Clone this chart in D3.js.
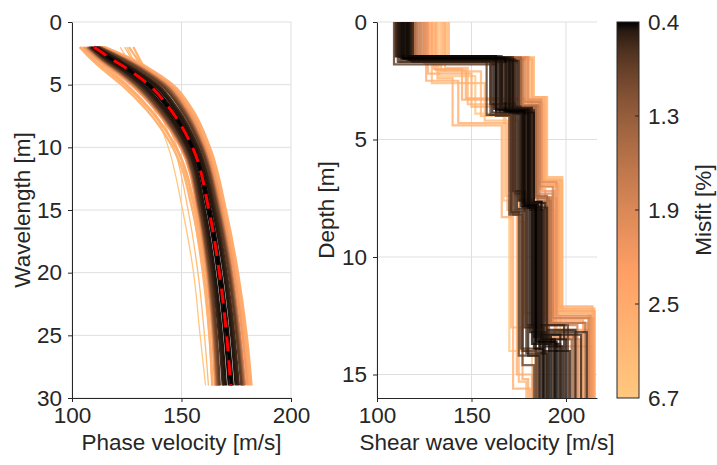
<!DOCTYPE html>
<html>
<head>
<meta charset="utf-8">
<script src="https://cdn.jsdelivr.net/npm/d3@7"></script>
<style>
  body { margin: 0; background: #fff; }
  svg text { font-family: "Liberation Sans", Arial, sans-serif; fill: #262626; }
</style>
</head>
<body>
<div id="chart"></div>
<script>
// dispersion curves: phase velocity [m/s] sampled at these wavelengths [m]
const wavelengths = [2, 3, 4, 5, 7, 10, 15, 20, 25, 29];
const bestCurve = [110, 118.5, 127.5, 135, 145, 155, 162.5, 167.3, 170.6, 172.5];

const curveMisfit = [
  6.7, 5.2, 4.5, 4.0, 3.8, 3.5, 3.2, 3.0, 2.8, 2.7, 2.6, 2.4,
  2.2, 2.2, 1.9, 1.9, 1.6, 1.6, 1.3, 1.3, 1.0, 1.0, 0.8, 0.8,
  0.6, 0.58, 0.52, 0.5, 0.47, 0.46, 0.43, 0.42, 0.41, 0.4
];
const curveVelocity = [
  [122, 125.5, 129, 132, 137.5, 144, 150.5, 155.5, 158.5, 161],
  [125, 128, 131, 134, 139.5, 146.5, 153, 157.5, 160.5, 162.3],
  [124, 127.5, 131, 134.5, 140.5, 148, 155, 159.5, 162.5, 164],
  [128, 131, 134, 137, 143.5, 151.5, 159.5, 164.5, 167.5, 169],
  [103.5, 109, 115.5, 122.5, 134, 146, 155, 160, 162.8, 164],
  [126, 130, 134.5, 139, 147, 156, 164, 170, 175, 178],
  [105, 111.5, 118.5, 125, 136, 147.5, 156, 160.5, 163, 164.2],
  [115, 128, 138, 146, 155, 163, 170.3, 175.8, 179.8, 182],
  [114.5, 127.5, 137.5, 145.5, 154.5, 162.5, 169.9, 175.4, 179.4, 181.7],
  [104, 110, 117, 124, 135.5, 147.5, 156.5, 161.5, 164.3, 165.5],
  [114, 127, 137, 145, 154, 162, 169.5, 175, 179, 181.3],
  [113.8, 126.5, 136.5, 144.5, 153.5, 161.6, 169, 174.5, 178.4, 180.7],
  [105.5, 112, 120, 127, 138, 149.5, 157.3, 161.5, 164.1, 165.3],
  [113.5, 126, 136, 144, 153, 161.2, 168.6, 174, 177.8, 180.1],
  [106.5, 113, 121, 128, 138.8, 150.2, 157.7, 162, 164.6, 165.8],
  [113, 125, 135, 143, 152, 160.3, 167.8, 173.1, 176.8, 179.1],
  [107, 113.5, 121.5, 128.5, 139.1, 150.4, 157.9, 162.2, 164.8, 166.1],
  [112.8, 124.5, 134.5, 142.5, 151.5, 159.9, 167.4, 172.7, 176.3, 178.6],
  [107.5, 114, 122, 129, 139.5, 150.7, 158.2, 162.5, 165.1, 166.5],
  [112.5, 124, 134, 142, 151, 159.5, 167, 172.3, 175.9, 178.2],
  [107.8, 114.3, 122.5, 129.5, 140, 151.1, 158.5, 162.9, 165.6, 167],
  [112.2, 123.5, 133.2, 141.2, 150.4, 159.1, 166.6, 171.9, 175.5, 177.7],
  [108, 114.7, 123, 130, 140.5, 151.5, 158.8, 163.3, 166.1, 167.5],
  [112, 123, 132.5, 140.5, 149.8, 158.7, 166.3, 171.5, 175.1, 177.3],
  [111.5, 121.5, 131, 139, 148.5, 157.7, 165.5, 170.6, 174.1, 176.2],
  [108.5, 115.5, 124, 131, 141.5, 152.3, 159.5, 164, 167.1, 168.8],
  [111.2, 120.9, 130.3, 138.2, 147.8, 157.2, 164.9, 169.9, 173.4, 175.5],
  [108.8, 116.1, 124.7, 131.8, 142.2, 152.8, 160.1, 164.7, 167.8, 169.5],
  [110.9, 120.3, 129.6, 137.4, 147.1, 156.6, 164.3, 169.3, 172.7, 174.7],
  [109.1, 116.7, 125.4, 132.6, 142.9, 153.4, 160.7, 165.3, 168.5, 170.3],
  [110.4, 119.3, 128.4, 136, 145.9, 155.7, 163.3, 168.1, 171.5, 173.4],
  [109.6, 117.8, 126.6, 134, 144.1, 154.3, 161.8, 166.5, 169.7, 171.6],
  [110.2, 118.0, 127.0, 134.6, 144.8, 155.2, 162.9, 167.6, 170.9, 172.9],
  [110, 118.5, 127.5, 135, 145, 155, 162.5, 167.3, 170.6, 172.5]
];

// shear wave profiles: interface depths [m] and layer velocities [m/s]
const profileMisfit = [
  6.7, 5.8, 5.0, 4.5, 4.0, 3.6, 3.4, 3.3, 3.1, 3.0, 2.8, 2.7, 2.6,
  2.5, 2.45, 2.4, 0.9, 2.35, 2.3, 2.0, 0.85, 2.15, 2.1, 0.8, 2.0, 1.95,
  0.75, 0.7, 1.8, 1.75, 0.68, 0.65, 1.6, 1.55, 0.62, 0.6, 1.4, 1.35,
  0.58, 0.56, 0.55, 0.54, 0.53, 0.52, 0.51, 0.5, 0.49, 0.48, 0.47, 0.46, 0.45, 0.4,
  0.44, 0.43, 0.42, 0.41
];
const layerDepths = [
  [2.30, 3.90, 7.60, 14.0], [1.50, 3.40, 6.70, 13.5], [2.60, 4.20, 8.50, 12.4],
  [1.95, 3.50, 7.40, 15.3], [2.10, 4.00, 7.80, 13.0], [1.50, 3.20, 6.60, 12.4],
  [1.55, 3.25, 6.75, 12.2], [2.40, 4.40, 8.30, 15.6], [2.50, 4.30, 8.00, 15.0],
  [1.60, 3.20, 6.70, 12.2], [2.20, 3.60, 7.20, 15.2], [2.05, 3.25, 6.90, 12.3],
  [2.00, 3.30, 6.80, 12.1],
  [1.60, 3.50, 7.00, 12.5], [1.60, 3.30, 6.90, 12.3], [1.50, 3.65, 7.10, 12.7],
  [1.45, 3.90, 8.20, 14.6], [1.75, 3.60, 7.50, 13.1], [1.75, 3.85, 8.00, 13.8],
  [1.60, 3.80, 7.70, 13.4], [1.45, 3.45, 7.30, 12.9], [1.50, 3.40, 7.20, 12.6],
  [1.60, 3.70, 7.50, 13.5], [1.70, 3.95, 8.10, 14.2], [1.50, 3.30, 6.80, 12.5],
  [1.55, 3.50, 7.30, 12.8],
  [1.80, 4.00, 8.20, 13.9], [1.50, 3.75, 7.90, 13.6], [1.55, 3.40, 7.00, 12.6],
  [1.65, 3.60, 7.45, 12.9], [1.70, 3.95, 8.10, 14.0], [1.45, 3.85, 8.05, 14.1],
  [1.60, 3.55, 7.60, 12.8], [1.60, 3.70, 7.50, 13.7], [1.45, 3.50, 7.20, 13.0],
  [1.50, 3.80, 7.85, 13.2], [1.50, 3.60, 7.40, 13.3], [1.55, 3.65, 7.70, 13.5],
  [1.65, 3.75, 7.80, 14.1], [1.60, 3.60, 7.55, 12.9], [1.50, 3.90, 7.90, 13.6],
  [1.55, 3.70, 7.80, 13.3], [1.70, 3.80, 7.65, 13.7], [1.45, 3.85, 7.95, 14.2],
  [1.60, 3.65, 7.70, 13.1], [1.55, 3.75, 7.85, 13.9], [1.50, 3.80, 7.75, 13.5],
  [1.65, 3.90, 8.00, 14.0], [1.45, 3.70, 7.60, 13.2], [1.60, 3.85, 7.90, 13.8],
  [1.50, 3.75, 7.70, 13.4], [1.55, 3.80, 7.80, 13.6],
  [1.50, 3.70, 7.75, 13.3], [1.60, 3.80, 7.85, 13.7], [1.55, 3.85, 7.65, 13.5],
  [1.45, 3.75, 7.90, 13.9]
];
const layerVs = [
  [133, 152, 167, 170, 182], [137, 181, 188, 197, 208], [129, 157, 175, 178, 212],
  [136, 148, 168, 175, 179], [134, 155, 172, 171, 184], [138, 183, 190, 198, 213],
  [136, 182, 189, 198, 214], [132, 140, 166, 172, 181], [126, 143, 169, 174, 182],
  [135, 182, 189, 197, 215], [127, 150, 170, 177, 180], [131, 147, 178, 194, 215],
  [130, 145, 182, 196, 214],
  [131, 180, 188, 196, 213], [128, 179, 188, 196, 215], [123, 168, 181, 189, 209],
  [111, 165, 172, 177, 183], [129, 176, 184, 195, 212], [125, 173, 185, 194, 214],
  [120, 168, 180, 190, 205], [110, 166, 173, 179, 201], [127, 179, 187, 194, 214],
  [121, 170, 183, 191, 207], [112, 160, 171, 175, 186], [126, 180, 187, 195, 213],
  [125, 177, 185, 193, 211],
  [109, 163, 170, 176, 184], [117, 171, 177, 185, 194], [124, 178, 186, 193, 212],
  [123, 175, 186, 192, 206], [111, 158, 171, 177, 185], [110, 163, 173, 179, 190],
  [122, 177, 185, 192, 210], [121, 172, 184, 191, 197], [110, 160, 172, 178, 188],
  [115, 169, 181, 186, 211], [120, 176, 184, 190, 204], [119, 176, 182, 188, 203],
  [118, 175, 183, 186, 190], [113, 166, 176, 182, 199], [116, 172, 179, 190, 193],
  [114, 164, 178, 184, 208], [119, 169, 180, 187, 196], [112, 161, 174, 180, 186],
  [117, 173, 182, 189, 205], [115, 170, 176, 183, 187], [113, 167, 179, 185, 200],
  [118, 174, 181, 188, 202], [111, 162, 175, 181, 189], [116, 171, 180, 186, 198],
  [112, 165, 177, 183, 192], [114, 168, 178, 184, 195],
  [115, 166, 181, 185, 197], [117, 172, 177, 182, 191], [113, 170, 183, 187, 194],
  [116, 163, 180, 184, 188]
];

const misfitTicks = [0.4, 1.3, 1.9, 2.5, 6.7];
const wavelengthTicks = [0, 5, 10, 15, 20, 25, 30];
const depthTicks = [0, 5, 10, 15];
const velocityTicks = [100, 150, 200];

const W = 717, H = 465;
const ink = "#262626", gridColor = "#dfdfdf";
const fontSize = 22.5;

const svg = d3.select("#chart").append("svg")
  .attr("width", W)
  .attr("height", H)
  .style("display", "block");

// copper-like map, flipped so small misfit is black
const misfitPos = d3.scaleLinear()
  .domain(misfitTicks)
  .range([0, 0.25, 0.5, 0.75, 1])
  .clamp(true);
const copper = (t) => {
  const s = Math.pow(t, 0.55);
  return d3.rgb(255 * Math.min(1, 1.25 * s), 255 * 0.7812 * s, 255 * 0.4975 * s).toString();
};
const misfitColor = (m) => copper(misfitPos(m));

function drawGrid(g, x, y, xTicks, yTicks) {
  const [x0, x1] = x.range();
  const [y0, y1] = y.range();
  g.append("g").selectAll("line")
    .data(xTicks)
    .join("line")
    .attr("x1", (d) => x(d)).attr("x2", (d) => x(d))
    .attr("y1", y0).attr("y2", y1)
    .attr("stroke", gridColor);
  g.append("g").selectAll("line")
    .data(yTicks)
    .join("line")
    .attr("x1", x0).attr("x2", x1)
    .attr("y1", (d) => y(d)).attr("y2", (d) => y(d))
    .attr("stroke", gridColor);
}

function styleAxis(sel) {
  sel.attr("font-size", fontSize).attr("font-family", null);
  sel.select(".domain").attr("stroke", ink);
  sel.selectAll(".tick line").attr("stroke", ink);
  sel.selectAll(".tick text").attr("fill", ink);
}

function addAxes(g, x, y, xTicks, yTicks) {
  g.append("g")
    .attr("transform", `translate(0,${y.range()[1]})`)
    .call(d3.axisBottom(x).tickValues(xTicks).tickSize(4).tickSizeOuter(0).tickPadding(5))
    .call(styleAxis);
  g.append("g")
    .attr("transform", `translate(${x.range()[0]},0)`)
    .call(d3.axisLeft(y).tickValues(yTicks).tickSize(4).tickSizeOuter(0).tickPadding(6))
    .call(styleAxis);
}

// ---- left: dispersion curves ----
const xL = d3.scaleLinear().domain([100, 200]).range([72, 291]);
const yL = d3.scaleLinear().domain([0, 30]).range([22, 398]);
const left = svg.append("g");
drawGrid(left, xL, yL, velocityTicks, wavelengthTicks);

const curveLine = d3.line()
  .x((d) => xL(d[1]))
  .y((d) => yL(d[0]))
  .curve(d3.curveMonotoneY);

const curves = curveVelocity.map((v, i) => ({ v, m: curveMisfit[i] }));
left.append("g")
  .selectAll("path")
  .data(d3.sort(curves, (a, b) => b.m - a.m))
  .join("path")
  .attr("d", (d) => curveLine(d.v.map((val, j) => [wavelengths[j], val])))
  .attr("fill", "none")
  .attr("stroke", (d) => misfitColor(d.m))
  .attr("stroke-width", (d) => (d.m >= 4.5 ? 1.3 : 2.3));

left.append("path")
  .attr("d", curveLine(bestCurve.map((val, j) => [wavelengths[j], val])))
  .attr("fill", "none")
  .attr("stroke", "#ff0000")
  .attr("stroke-width", 3)
  .attr("stroke-dasharray", "15,9");

addAxes(left, xL, yL, velocityTicks, wavelengthTicks);

left.append("text")
  .attr("x", d3.mean(xL.range()))
  .attr("y", 450)
  .attr("text-anchor", "middle")
  .attr("font-size", fontSize)
  .text("Phase velocity [m/s]");
left.append("text")
  .attr("transform", `translate(30,${d3.mean(yL.range())}) rotate(-90)`)
  .attr("text-anchor", "middle")
  .attr("font-size", fontSize)
  .text("Wavelength [m]");

// ---- right: shear wave velocity profiles ----
const xR = d3.scaleLinear().domain([100, 216.4]).range([377, 597]);
const yR = d3.scaleLinear().domain([0, 16]).range([22, 398]);
const right = svg.append("g");
drawGrid(right, xR, yR, velocityTicks, depthTicks);

const stepLine = d3.line()
  .x((d) => xR(d[0]))
  .y((d) => yR(d[1]))
  .curve(d3.curveStepBefore);

const profiles = layerVs.map((vs, i) => {
  const dep = [0].concat(layerDepths[i]);
  const pts = vs.map((v, k) => [v, dep[k]]);
  pts.push([vs[vs.length - 1], yR.domain()[1]]);
  return { pts, m: profileMisfit[i] };
});

right.append("g")
  .selectAll("path")
  .data(d3.sort(profiles, (a, b) => b.m - a.m))
  .join("path")
  .attr("d", (d) => stepLine(d.pts))
  .attr("fill", "none")
  .attr("stroke", (d) => misfitColor(d.m))
  .attr("stroke-width", 2.2)
  .attr("stroke-opacity", 0.8);

addAxes(right, xR, yR, velocityTicks, depthTicks);

right.append("text")
  .attr("x", d3.mean(xR.range()))
  .attr("y", 450)
  .attr("text-anchor", "middle")
  .attr("font-size", fontSize)
  .text("Shear wave velocity [m/s]");
right.append("text")
  .attr("transform", `translate(334,${d3.mean(yR.range())}) rotate(-90)`)
  .attr("text-anchor", "middle")
  .attr("font-size", fontSize)
  .text("Depth [m]");

// ---- colorbar ----
const cb = { x: 617, w: 22 };
const yC = d3.scaleLinear().domain([0, 1]).range([22, 398]);
const grad = svg.append("defs").append("linearGradient")
  .attr("id", "copperGrad")
  .attr("x1", 0).attr("y1", 0).attr("x2", 0).attr("y2", 1);
grad.selectAll("stop")
  .data(d3.range(0, 1.0001, 0.025))
  .join("stop")
  .attr("offset", (t) => t)
  .attr("stop-color", (t) => copper(t));

svg.append("rect")
  .attr("x", cb.x).attr("y", yC(0))
  .attr("width", cb.w).attr("height", yC(1) - yC(0))
  .attr("fill", "url(#copperGrad)")
  .attr("stroke", ink)
  .attr("stroke-width", 1);

const cbTicks = svg.append("g");
cbTicks.selectAll("line")
  .data(misfitTicks.slice(1, -1))
  .join("line")
  .attr("x1", cb.x + cb.w - 4).attr("x2", cb.x + cb.w)
  .attr("y1", (m) => yC(misfitPos(m))).attr("y2", (m) => yC(misfitPos(m)))
  .attr("stroke", ink);
cbTicks.selectAll("text")
  .data(misfitTicks)
  .join("text")
  .attr("x", cb.x + cb.w + 9)
  .attr("y", (m) => yC(misfitPos(m)))
  .attr("dy", "0.35em")
  .attr("font-size", fontSize)
  .text((m) => m.toFixed(1));

svg.append("text")
  .attr("transform", `translate(711,${d3.mean(yC.range())}) rotate(-90)`)
  .attr("text-anchor", "middle")
  .attr("font-size", fontSize)
  .text("Misfit [%]");
</script>
</body>
</html>
